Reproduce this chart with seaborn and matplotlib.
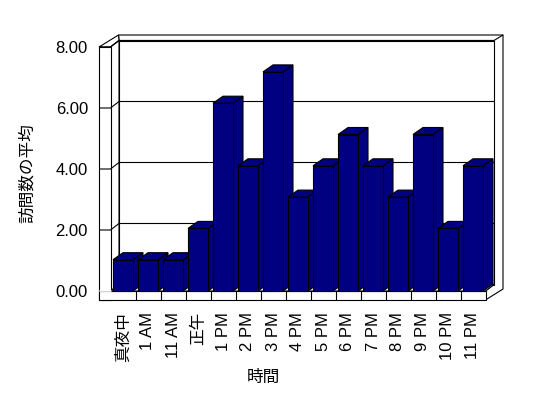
import matplotlib
matplotlib.use("Agg")
import matplotlib.pyplot as plt
import seaborn as sns
import pandas as pd
from matplotlib.patches import Polygon, Rectangle

# ---------------- data ----------------
categories = ['真夜中', '1 AM', '11 AM', '正午', '1 PM', '2 PM', '3 PM', '4 PM',
              '5 PM', '6 PM', '7 PM', '8 PM', '9 PM', '10 PM', '11 PM']
values = [1, 1, 1, 2, 6, 4, 7, 3, 4, 5, 4, 3, 5, 2, 4]
y_ticks = [0, 2, 4, 6, 8]
y_tick_labels = ['0.00', '2.00', '4.00', '6.00', '8.00']
x_title = '時間'
y_title = '訪問数の平均'

# ---------------- style ----------------
sns.set_theme(style='white')
plt.rcParams['font.family'] = ['Liberation Sans', 'Noto Sans CJK JP', 'DejaVu Sans']

W, H = 548, 398
fig = plt.figure(figsize=(W / 100, H / 100), dpi=100)
fig.patch.set_facecolor('white')

NAVY = '#000080'
LW = 0.8
FS = 12

# geometry (pixels, image coords with y down)
PL, PR = 110.5, 485.5      # front plane left/right
Y0 = 291.0                 # front floor line
FRONT_UNIT = 30.5          # px per value unit on walls
BAR_UNIT = 31.3            # px per value unit for bars
DX, DY = 8.5, 6.5          # wall depth offset
BDX, BDY = 10.0, 7.0       # bar depth offset
WALL_X0 = 99.0             # left wall outer
FLOOR_Y1 = 300.0           # floor bottom
OUT_X = 503.0              # back wall outer right
OUT_Y = 35.0               # back wall outer top
YMAX = y_ticks[-1]


def yf(v):
    return Y0 - FRONT_UNIT * v


def yb(v):
    return yf(v) - DY


# ---------------- background / walls ----------------
bg = fig.add_axes([0, 0, 1, 1], zorder=0)
bg.set_xlim(0, W)
bg.set_ylim(H, 0)
bg.axis('off')

kw = dict(facecolor='white', edgecolor='black', linewidth=LW)
# back wall outer top + right side
bg.add_patch(Polygon([(PL + DX - 0.5, OUT_Y), (OUT_X, OUT_Y), (OUT_X, yb(0) + 4.5),
                      (PR, FLOOR_Y1), (PR, Y0), (PR + DX, yb(0)), (PR + DX, yb(YMAX)),
                      (PL + DX, yb(YMAX))],
                     closed=True, **kw))
bg.plot([PR + DX, OUT_X], [yb(YMAX), OUT_Y], color='black', lw=LW)
# back wall inner face
bg.add_patch(Rectangle((PL + DX, yb(YMAX)), PR - PL, yb(0) - yb(YMAX), **kw))
# left wall top
bg.add_patch(Polygon([(WALL_X0, yf(YMAX)), (PL, yf(YMAX)), (PL + DX, yb(YMAX)),
                      (PL + DX - 0.5, OUT_Y)], closed=True, **kw))
# left wall inner face
bg.add_patch(Polygon([(PL, yf(YMAX)), (PL + DX, yb(YMAX)), (PL + DX, yb(0)), (PL, Y0)],
                     closed=True, **kw))
# floor top
bg.add_patch(Polygon([(PL, Y0), (PR, Y0), (PR + DX, yb(0)), (PL + DX, yb(0))],
                     closed=True, **kw))
# left wall front face
bg.add_patch(Rectangle((WALL_X0, yf(YMAX)), PL - WALL_X0, FLOOR_Y1 - yf(YMAX), **kw))
# floor front face
bg.add_patch(Rectangle((WALL_X0, Y0), PR - WALL_X0, FLOOR_Y1 - Y0, **kw))
bg.plot([WALL_X0 + 0.6, PL], [Y0, Y0], color='white', lw=LW + 0.4)

# gridlines wrapping the left wall and the back wall
for v in y_ticks[1:]:
    bg.plot([WALL_X0, PL, PL + DX, PR + DX], [yf(v), yf(v), yb(v), yb(v)],
            color='black', lw=LW, solid_capstyle='butt')

# category separators on the floor front face
n = len(categories)
for k in range(1, n):
    x = PL + (PR - PL) * k / n
    bg.plot([x, x], [Y0, FLOOR_Y1], color='black', lw=LW)

# ---------------- front-plane axis (value labels) ----------------
axf = fig.add_axes([PL / W, (H - Y0) / H, (PR - PL) / W, FRONT_UNIT * YMAX / H], zorder=1)
axf.set_ylim(0, YMAX)
axf.set_xlim(0, 1)
axf.patch.set_visible(False)
for s in axf.spines.values():
    s.set_visible(False)
axf.set_xticks([])
axf.set_yticks(y_ticks, y_tick_labels)
axf.tick_params(axis='y', length=0, pad=(PL - 88) * 0.72, labelsize=FS, colors='black')
axf.set_ylabel(y_title, fontsize=FS, color='black')
axf.yaxis.label.set_va('center')
axf.yaxis.set_label_coords((27 - PL) / (PR - PL), (Y0 - 173) / (FRONT_UNIT * YMAX))

# ---------------- bars ----------------
ax = fig.add_axes([PL / W, (H - Y0) / H, (PR - PL) / W, BAR_UNIT * YMAX / H], zorder=2)
df = pd.DataFrame({'cat': categories, 'val': values})
sns.barplot(data=df, x='cat', y='val', order=categories, color=NAVY, saturation=1,
            width=0.8, edgecolor='black', linewidth=LW, ax=ax)
ax.set_xlim(-0.5, n - 0.5)
ax.set_ylim(0, YMAX)
ax.patch.set_visible(False)
for s in ax.spines.values():
    s.set_visible(False)
ax.set_yticks([])
ax.set_ylabel('')
ax.tick_params(axis='x', length=0, pad=(312 - Y0) * 0.72, labelsize=FS,
               labelrotation=90, colors='black')
ax.set_xlabel(x_title, fontsize=FS, color='black')
ax.xaxis.label.set_va('center')
ax.xaxis.set_label_coords((263 - PL) / (PR - PL), (Y0 - 377) / (BAR_UNIT * YMAX))

ddx = BDX / ((PR - PL) / n)
ddy = BDY / BAR_UNIT
for i, p in enumerate(ax.patches):
    x0 = p.get_x()
    x1 = x0 + p.get_width()
    h = p.get_height()
    base = 3 + i * 0.1
    side = Polygon([(x1, 0), (x1 + ddx, ddy), (x1 + ddx, h + ddy), (x1, h)], closed=True,
                   facecolor=NAVY, edgecolor='black', linewidth=LW, zorder=base, clip_on=False)
    top = Polygon([(x0, h), (x1, h), (x1 + ddx, h + ddy), (x0 + ddx, h + ddy)], closed=True,
                  facecolor=NAVY, edgecolor='black', linewidth=LW, zorder=base, clip_on=False)
    ax.add_patch(side)
    ax.add_patch(top)
    p.set_zorder(base + 0.05)
    p.set_clip_on(False)

fig.savefig('out.png', dpi=100, facecolor='white')
